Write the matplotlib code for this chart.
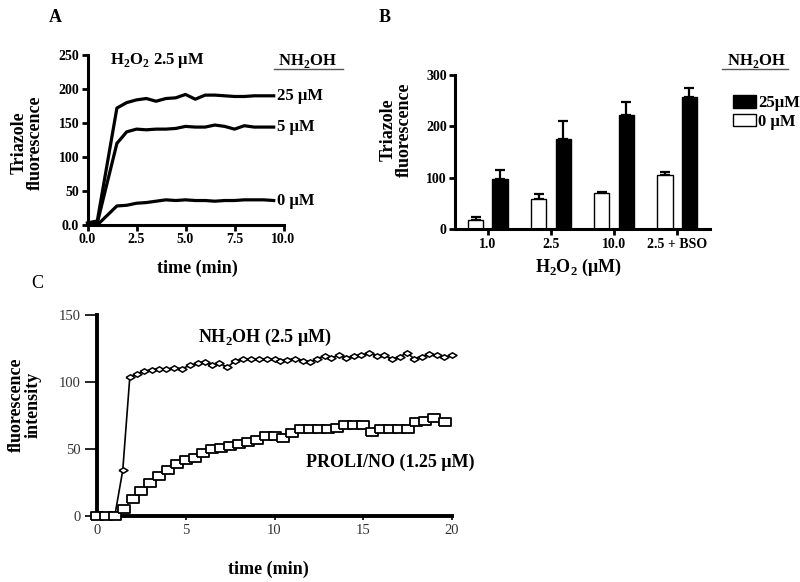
import numpy as np
import matplotlib
matplotlib.use("Agg")
import matplotlib.pyplot as plt
from matplotlib.lines import Line2D
from matplotlib.patches import Patch

plt.rcParams['font.family'] = ['Liberation Serif', 'DejaVu Serif']
plt.rcParams['mathtext.fontset'] = 'custom'
plt.rcParams['mathtext.rm'] = 'Liberation Serif:bold'
plt.rcParams['mathtext.bf'] = 'Liberation Serif:bold'

# ---- panel A: triazole fluorescence vs time, H2O2 2.5 uM ----
time_a = [0, 0.5, 1.5, 2.0, 2.5, 3.0, 3.5, 4.0, 4.5, 5.0, 5.5, 6.0, 6.5,
          7.0, 7.5, 8.0, 8.5, 9.0, 9.5]
nh2oh_25 = [3, 6, 172, 180, 184, 186, 182, 186, 187, 192, 185, 191, 191,
            190, 189, 189, 190, 190, 190]
nh2oh_5 = [2, 3, 120, 137, 141, 140, 141, 141, 142, 145, 144, 144, 147,
           145, 141, 146, 144, 144, 144]
nh2oh_0 = [0, 0, 28, 29, 32, 33, 35, 37, 36, 37, 36, 36, 35,
           36, 36, 37, 37, 37, 36]
labels_a = ["25 μM", "5 μM", "0 μM"]

# ---- panel B: bars ----
h2o2_groups = ["1.0", "2.5", "10.0", "2.5 + BSO"]
zero_vals = [19, 58, 70, 106]
zero_err = [5, 10, 3, 5]
high_vals = [98, 176, 223, 257]
high_err = [18, 35, 24, 18]

# ---- panel C: NH2OH vs PROLI/NO ----
time_nh = [0.2, 0.6, 1.0, 1.45, 1.85, 2.25, 2.65, 3.1, 3.5, 3.9, 4.35, 4.8,
           5.25, 5.7, 6.1, 6.5, 6.9, 7.35, 7.8, 8.25, 8.7, 9.1, 9.55, 10.0,
           10.3, 10.7, 11.15, 11.6, 12.0, 12.4, 12.85, 13.2, 13.65, 14.05,
           14.5, 14.9, 15.35, 15.75, 16.15, 16.6, 17.05, 17.45, 17.85, 18.3,
           18.7, 19.15, 19.55, 20.0]
nh_vals = [0, 0, 0, 34, 104, 106, 108, 109, 110, 109.5, 110.5, 110,
           112.5, 114, 115, 112.5, 114, 111, 116, 117, 117, 117, 117, 117,
           116, 116.5, 117.5, 116, 115, 117.5, 119.5, 118, 120, 118,
           119.5, 120, 122, 119.5, 120, 117.5, 118.5, 122, 117.5, 119,
           121, 120, 118.5, 120]
time_pro = [0, 0.5, 1.0, 1.5, 2.0, 2.5, 3.0, 3.5, 4.0, 4.5, 5.0, 5.5, 6.0,
            6.5, 7.0, 7.5, 8.0, 8.5, 9.0, 9.5, 10.0, 10.5, 11.0, 11.5, 12.0,
            12.5, 13.0, 13.5, 14.0, 14.5, 15.0, 15.5, 16.0, 16.5, 17.0, 17.5,
            18.0, 18.5, 19.0, 19.6]
pro_vals = [0, 0, 0, 5, 13, 19, 25, 30, 34, 39, 42, 43, 47,
            50, 51, 52, 54, 55, 57, 60, 60, 58, 62, 65, 65,
            65, 65, 66, 68, 68, 68, 63, 65, 65, 65, 65,
            70, 71, 73, 70]

W, H = 800, 582
fig = plt.figure(figsize=(8, 5.82), dpi=100)


def fx(px):
    return px / W


def fy(py):
    return 1 - py / H


bold = dict(fontweight='bold')

# ================= A =================
axA = fig.add_axes([fx(87.5), fy(225), 196 / W, 170 / H])
for vals in (nh2oh_25, nh2oh_5, nh2oh_0):
    axA.plot(time_a, vals, color='black', lw=2.3, clip_on=False,
             solid_joinstyle='round')
axA.set_xlim(0, 10)
axA.set_ylim(0, 250)
axA.set_xticks([0, 2.5, 5, 7.5, 10])
axA.set_xticklabels(["0.0", "2.5", "5.0", "7.5", "10.0"])
axA.set_yticks([0, 50, 100, 150, 200, 250])
axA.set_yticklabels(["0.0", "50", "100", "150", "200", "250"])
for s in ('top', 'right'):
    axA.spines[s].set_visible(False)
for s in ('left', 'bottom'):
    axA.spines[s].set_linewidth(2.2)
axA.tick_params(width=2, length=4, labelsize=10, pad=2)
for t in axA.get_xticklabels() + axA.get_yticklabels():
    t.set_fontweight('bold')
for lab, vals in zip(labels_a, (nh2oh_25, nh2oh_5, nh2oh_0)):
    axA.text(9.65, vals[-1], lab, fontsize=12, va='center', ha='left',
             clip_on=False, **bold)

fig.text(fx(55), fy(17), "A", fontsize=13, ha='center', va='center', **bold)
fig.text(fx(157), fy(61), r"H$_\mathregular{2}$O$_\mathregular{2}$ 2.5 μM",
         fontsize=12, ha='center', va='center', **bold)
fig.text(fx(308), fy(61), r"NH$_\mathregular{2}$OH", fontsize=12,
         ha='center', va='center', **bold)
fig.add_artist(Line2D([fx(274), fx(343)], [fy(69), fy(69)], color='#555555',
                      lw=1))
fig.text(fx(27), fy(143), "Triazole\nfluorescence", rotation=90, fontsize=13,
         ha='center', va='center', multialignment='center', linespacing=0.95,
         **bold)
fig.text(fx(197), fy(268), "time (min)", fontsize=13, ha='center',
         va='center', **bold)

# ================= B =================
axB = fig.add_axes([fx(455), fy(229.3), 255 / W, 154.3 / H])
xpos = np.arange(len(h2o2_groups))
bw = 0.245
axB.bar(xpos - 0.195, zero_vals, bw, color='white', edgecolor='black',
        lw=1, zorder=2)
axB.bar(xpos + 0.195, high_vals, bw, color='black', edgecolor='black',
        lw=1, zorder=2)
axB.errorbar(xpos - 0.195, zero_vals, yerr=[[0] * 4, zero_err], fmt='none',
             ecolor='black', elinewidth=1.6, capsize=3.5, capthick=1.6,
             zorder=1)
axB.errorbar(xpos + 0.195, high_vals, yerr=[[0] * 4, high_err], fmt='none',
             ecolor='black', elinewidth=1.6, capsize=3.5, capthick=1.6,
             zorder=1)
axB.set_xlim(-0.52, 3.52)
axB.set_ylim(0, 300)
axB.set_yticks([0, 100, 200, 300])
axB.set_xticks(xpos)
axB.set_xticklabels(h2o2_groups)
for s in ('top', 'right'):
    axB.spines[s].set_visible(False)
for s in ('left', 'bottom'):
    axB.spines[s].set_linewidth(2.2)
axB.tick_params(width=2, length=4, labelsize=10, pad=2)
for t in axB.get_xticklabels() + axB.get_yticklabels():
    t.set_fontweight('bold')

handles = [Patch(facecolor='black', edgecolor='black', lw=1),
           Patch(facecolor='white', edgecolor='black', lw=1)]
axB.legend(handles, ["25μM", "0 μM"], loc='upper left',
           bbox_to_anchor=(fx(725), fy(87)), bbox_transform=fig.transFigure,
           frameon=False, handlelength=1.35, handleheight=0.75,
           handletextpad=0.15, labelspacing=0.15, borderpad=0,
           prop=dict(family='Liberation Serif', weight='bold', size=12))
fig.text(fx(757), fy(61), r"NH$_\mathregular{2}$OH", fontsize=12,
         ha='center', va='center', **bold)
fig.add_artist(Line2D([fx(722), fx(788)], [fy(69), fy(69)], color='#555555',
                      lw=1))
fig.text(fx(385), fy(17), "B", fontsize=13, ha='center', va='center', **bold)
fig.text(fx(396), fy(130), "Triazole\nfluorescence", rotation=90, fontsize=13,
         ha='center', va='center', multialignment='center', linespacing=0.95,
         **bold)
fig.text(fx(578), fy(267), r"H$_\mathregular{2}$O$_\mathregular{2}$ (μM)",
         fontsize=13, ha='center', va='center', **bold)

# ================= C =================
axC = fig.add_axes([fx(97), fy(516), 355 / W, 201 / H])
diamond = [(-1, 0), (0, 0.6), (1, 0), (0, -0.6), (-1, 0)]
rect = [(-1, -0.7), (1, -0.7), (1, 0.7), (-1, 0.7), (-1, -0.7)]
axC.plot(time_nh, nh_vals, color='black', lw=1.2, marker=diamond, ms=6.5,
         mfc='white', mec='black', mew=1.1, clip_on=False, zorder=2)
axC.plot(time_pro, pro_vals, ls='none', marker=rect, ms=8.5,
         mfc='white', mec='black', mew=1.3, clip_on=False, zorder=3)
axC.set_xlim(0, 20)
axC.set_ylim(0, 150)
axC.set_xticks([0, 5, 10, 15, 20])
axC.set_yticks([0, 50, 100, 150])
for s in ('top', 'right'):
    axC.spines[s].set_visible(False)
for s in ('left', 'bottom'):
    axC.spines[s].set_linewidth(2.8)
axC.tick_params(axis='y', width=1.2, length=9, labelsize=10.5,
                labelcolor='#333333', pad=3)
axC.tick_params(axis='x', width=1.2, length=3, labelsize=10.5,
                labelcolor='#333333', pad=3)
axC.text(9.45, 133, r"NH$_\mathregular{2}$OH (2.5 μM)", fontsize=13,
         ha='center', va='center', **bold)
axC.text(16.5, 40, "PROLI/NO (1.25 μM)", fontsize=13, ha='center',
         va='center', clip_on=False, **bold)

fig.text(fx(37), fy(283), "C", fontsize=13, ha='center', va='center')
fig.text(fx(25), fy(405), "fluorescence\nintensity", rotation=90,
         fontsize=13, ha='center', va='center', multialignment='center',
         linespacing=0.95, **bold)
fig.text(fx(268), fy(569), "time (min)", fontsize=13, ha='center',
         va='center', **bold)

fig.savefig("out.png", dpi=100)
